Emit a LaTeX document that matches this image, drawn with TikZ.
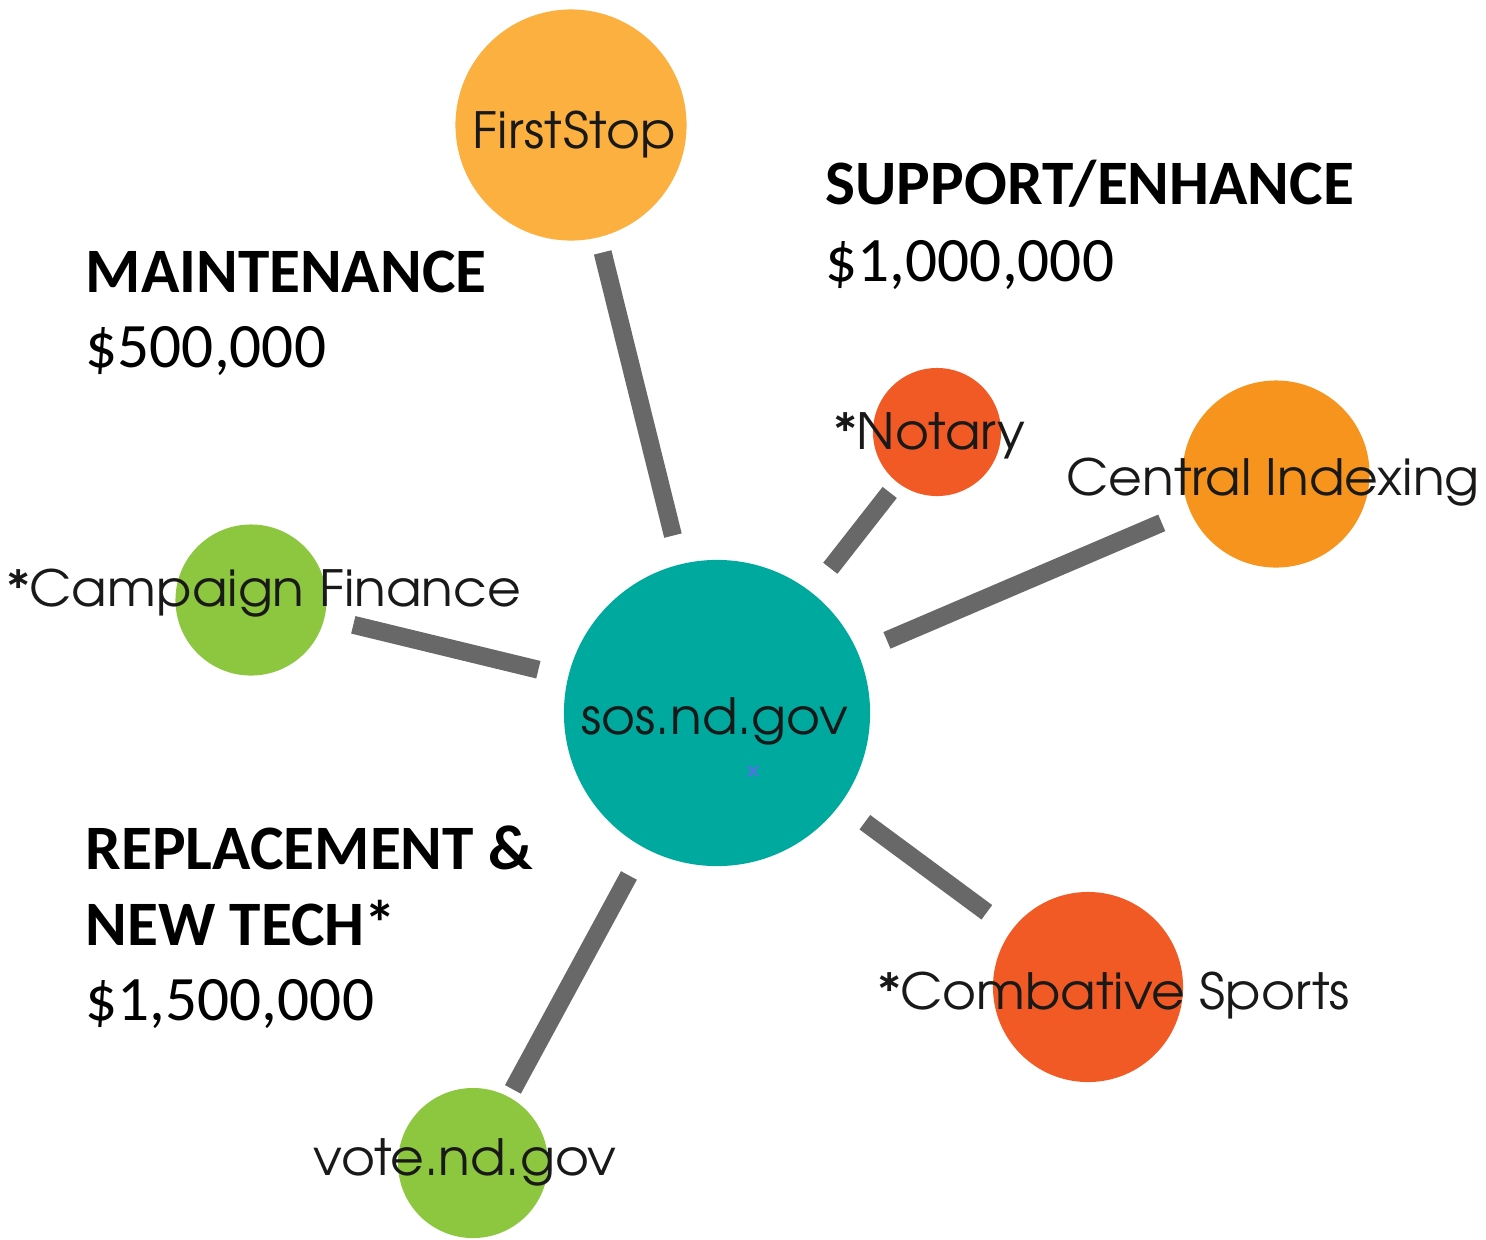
\documentclass[tikz,border=0pt]{standalone}
\usepackage{fontspec}
\setmainfont{Carlito}
\newfontfamily\gothic[FakeStretch=1.04]{texgyreadventor-regular.otf}
\definecolor{cteal}{HTML}{00A99D}
\definecolor{cyel}{HTML}{FBB040}
\definecolor{cred}{HTML}{F15A24}
\definecolor{corg}{HTML}{F7941D}
\definecolor{cgrn}{HTML}{8DC63F}
\definecolor{cline}{HTML}{686868}
\definecolor{cblue}{HTML}{5B6BF0}
\begin{document}
\begin{tikzpicture}[x=0.01cm,y=-0.01cm,
  bubble/.style={circle,inner sep=0pt,draw=none},
  conn/.style={draw=cline,line width=0.18cm},
  lbl/.style={font=\gothic\fontsize{14.2}{17}\selectfont,inner sep=0pt,anchor=base,text=black!90},
  head/.style={font=\bfseries\fontsize{18}{21}\selectfont,inner sep=0pt,anchor=base west},
  amount/.style={font=\fontsize{18}{21}\selectfont,inner sep=0pt,anchor=base west}]
\useasboundingbox (0,0) rectangle (1486,1239);
% bubbles
\node[bubble,fill=cteal,minimum size=3.06cm] (sos) at (717,713) {};
\node[bubble,fill=cyel,minimum size=2.31cm] (fs) at (571,125) {};
\node[bubble,fill=cred,minimum size=1.28cm] (no) at (937,432) {};
\node[bubble,fill=corg,minimum size=1.87cm] (ci) at (1276,474) {};
\node[bubble,fill=cgrn,minimum size=1.51cm] (cf) at (251,600) {};
\node[bubble,fill=cred,minimum size=1.90cm] (cs) at (1088,987) {};
\node[bubble,fill=cgrn,minimum size=1.50cm] (vo) at (473,1163) {};
% connectors
\draw[conn,shorten <=0.15cm,shorten >=0.29cm] (fs) -- (sos);
\draw[conn,shorten <=0.12cm,shorten >=0.30cm] (no) -- (sos);
\draw[conn,shorten <=0.30cm,shorten >=0.31cm] (ci) -- (sos);
\draw[conn,shorten <=0.29cm,shorten >=0.30cm] (cf) -- (sos);
\draw[conn,shorten <=0.30cm,shorten >=0.30cm] (cs) -- (sos);
\draw[conn,shorten <=0.08cm,shorten >=0.31cm] (vo) -- (sos);
% labels
\node[lbl] (lsos) at (715,734) {sos.nd.gov};
\node[lbl] (lfs) at (574,148) {FirstStop};
\node[lbl] (lno) at (930,449) {*Notary};
\node[lbl] (lci) at (1273,495) {Central Indexing};
\node[lbl] (lcf) at (264,606) {*Campaign Finance};
\node[lbl] (lcs) at (1114,1009) {*Combative Sports};
\node[lbl] (lvo) at (465,1175) {vote.nd.gov};
% small blue mark
\draw[cblue,line width=0.6pt] (748,766) -- (758,776) (748,776) -- (758,766);
% headings
\node[head] (h1) at (85,292) {MAINTENANCE};
\node[amount] (a1) at (85,367) {\$500,000};
\node[head] (h2) at (825,204) {SUPPORT/ENHANCE};
\node[amount] (a2) at (825,281) {\$1,000,000};
\node[head] (h3a) at (85,869) {REPLACEMENT \&};
\node[head] (h3b) at (85,945) {NEW TECH*};
\node[amount] (a3) at (85,1020) {\$1,500,000};
\end{tikzpicture}
\end{document}
